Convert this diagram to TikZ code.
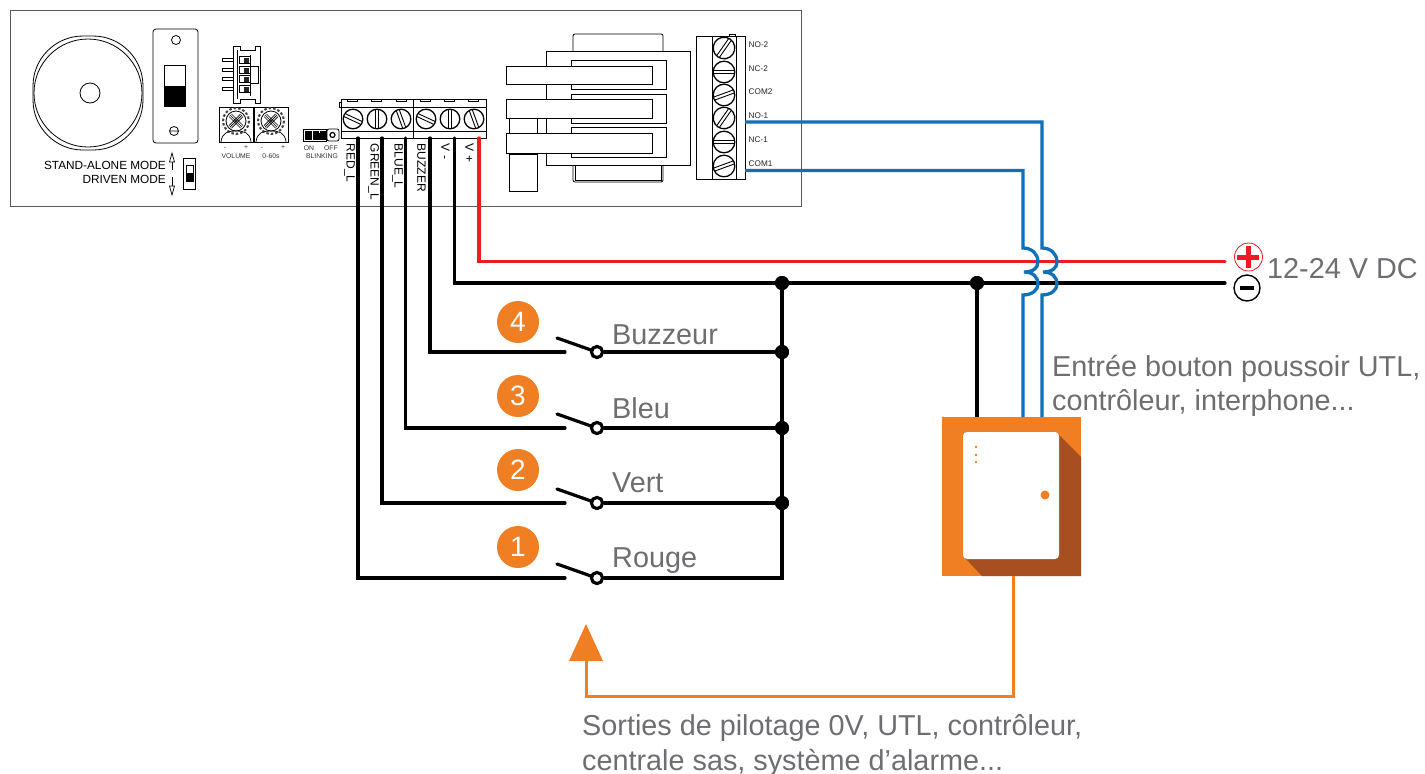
\documentclass[tikz,border=0pt]{standalone}
\usepackage{fontspec}
\setmainfont{Liberation Sans}
\definecolor{wblue}{HTML}{1070B8}
\definecolor{wred}{HTML}{ED1C24}
\definecolor{oran}{HTML}{F07E22}
\definecolor{brun}{HTML}{A84F22}
\definecolor{gtext}{HTML}{6D6E71}
\newcommand{\fsz}[1]{\fontsize{#1pt}{#1pt}\selectfont}
\newcommand{\screw}[4]{\begin{scope}[shift={(#1,#2)},rotate=#3]
\draw[line width=1.3pt,fill=white] (0,0) circle (#4);
\draw[line width=.9pt] (-#4+.3,-1.6) -- (#4-.3,-1.6) (-#4+.3,1.6) -- (#4-.3,1.6);
\end{scope}}
\newcommand{\trimmer}[2]{\begin{scope}[shift={(#1,#2)}]
\draw[line width=.7pt] (-17,-14) rectangle (17,21);
\draw[line width=2pt,dash pattern=on 2.5pt off 2pt,black!75] (0,0) circle (13);
\draw[line width=.8pt,fill=white] (0,0) circle (10);
\draw[line width=.7pt] (-6,-6) -- (6,6) (-6,6) -- (6,-6) (-7,-4.5) -- (4.5,7) (-4.5,-7) -- (7,4.5) (-7,4.5) -- (4.5,-7) (-4.5,7) -- (7,-4.5);
\draw[line width=.7pt] (-15,21) .. controls (-14,11) and (-7,10) .. (0,10) .. controls (7,10) and (14,11) .. (15,21);
\end{scope}}
\tikzset{
 panelline/.style={line width=.8pt,black},
 wire/.style={line width=3.2pt,black,line join=miter},
 redwire/.style={line width=3.2pt,wred},
 bluewire/.style={line width=3.3pt,wblue},
 orangewire/.style={line width=3pt,oran},
 junction/.style={circle,fill=black,inner sep=0pt,minimum size=14pt},
 contact/.style={circle,draw=black,line width=3pt,fill=white,inner sep=0pt,minimum size=11pt},
 numdisc/.style={circle,fill=oran,text=white,inner sep=0pt,minimum size=42pt,font=\fsz{28}},
 biglabel/.style={text=gtext,anchor=base west,inner sep=0pt,font=\fsz{28.8}},
 tiny/.style={inner sep=0pt,font=\fsz{6.8},text=black!80},
 relaylabel/.style={inner sep=0pt,anchor=west,font=\fsz{8.2},text=black!85},
 vlabel/.style={inner sep=0pt,rotate=-90,anchor=west,font=\fsz{12}},
 modelabel/.style={inner sep=0pt,anchor=east,font=\fsz{11.8}},
}
\begin{document}
\begin{tikzpicture}[x=1pt,y=-1pt]
\useasboundingbox (0,0) rectangle (1425,774);
\fill[white] (0,0) rectangle (1425,774);
% panel
\draw[line width=1pt,black!65] (10,10) rectangle (801,206);
% buzzer
\draw[panelline] (88,93) circle (54);
\draw[panelline,rounded corners=50pt] (33,36) rectangle (143,150);
\draw[panelline] (90,93) circle (10);
% switch plate
\draw[panelline,rounded corners=3pt] (153,29) rectangle (198,143);
\draw[panelline] (176,40) circle (4.5);
\draw[panelline] (164,65) rectangle (185,106);
\fill[black] (164,86) rectangle (185,106);
\draw[panelline] (174,131) circle (4.5) (169.5,131) -- (178.5,131);
% mode arrows
\draw[line width=.7pt] (172,162) -- (172,170) (172,177) -- (172,186);
\draw[line width=.7pt,fill=white] (172,153) -- (174.5,162) -- (169.5,162) -- cycle;
\draw[line width=.7pt,fill=white] (172,195) -- (174.5,186) -- (169.5,186) -- cycle;
\draw[panelline] (183,158) rectangle (195,189);
\draw[line width=.6pt] (186,165) rectangle (193,181);
\fill[black] (186,173) rectangle (193,181);
\node[modelabel] (standalone) at (166,165.5) {STAND-ALONE MODE};
\node[modelabel] (driven) at (166,179.5) {DRIVEN MODE};
% 4-pin connector
\draw[panelline] (233,46) -- (233,103) -- (240,103) -- (240,99) -- (255,99) -- (255,103) -- (260,103) -- (260,46) -- (255,46) -- (255,50) -- (240,50) -- (240,46) -- cycle;
\draw[line width=.6pt] (237,50) -- (237,99) (250,55) -- (250,96);
\draw[line width=.7pt] (250,66) -- (258,66) -- (258,83) -- (250,83);
\foreach \y in {60,70,79,89}{
 \draw[line width=.7pt] (222,\y-1.3) rectangle (233,\y+1.3);
 \draw[line width=.6pt] (239,\y-3.5) rectangle (250,\y+3.5);
 \fill[black!85] (244,\y-2.5) rectangle (249,\y+2.5);
}
% trimmers
\trimmer{236}{121}
\trimmer{271}{121}
\node[tiny] (vm) at (225,148) {-};
\node[tiny] (vp) at (246,148) {+};
\node[tiny] (volume) at (236,156) {VOLUME};
\node[tiny] (tm) at (262,148) {-};
\node[tiny] (tp) at (283,148) {+};
\node[tiny] (tempo) at (271,156) {0-60s};
% blinking jumper
\draw[line width=.7pt] (303,129) rectangle (326,141);
\fill[black] (305,130.5) rectangle (326,140);
\draw[line width=.5pt,white] (312,130.5) -- (312,140) (319,130.5) -- (319,133);
\draw[panelline,rounded corners=2pt] (327,129) rectangle (339,141);
\draw[line width=1.2pt] (332.5,135) circle (2.5);
\node[tiny] (on) at (309,148) {ON};
\node[tiny] (off) at (331,148) {OFF};
\node[tiny] (blinking) at (322,156) {BLINKING};
% terminal block
\draw[line width=1pt] (341,99) rectangle (486,138);
\draw[line width=.8pt] (341,107) -- (486,107) (341,131) -- (486,131) (413,99) -- (413,138);
\draw[line width=.7pt] (339,102) rectangle (341,107);
\foreach \x in {347,371,396,420,444,468}{\draw[line width=.7pt] (\x,99) rectangle (\x+10,101.5);}
\screw{353}{119}{-25}{9.8}
\screw{377}{119}{90}{9.8}
\screw{401}{119}{-70}{9.8}
\screw{426}{119}{-25}{9.8}
\screw{450}{119}{90}{9.8}
\screw{474}{119}{-70}{9.8}
\coordinate (tRed) at (358,138);
\coordinate (tGreen) at (382,138);
\coordinate (tBlue) at (405.5,138);
\coordinate (tBuzz) at (430,138);
\coordinate (tVm) at (454.5,138);
\coordinate (tVp) at (479,138);
\node[vlabel] (lred) at (349.5,143.5) {RED\_L};
\node[vlabel] (lgreen) at (373.5,143.5) {GREEN\_L};
\node[vlabel] (lblue) at (397.5,143.5) {BLUE\_L};
\node[vlabel] (lbuzz) at (421.5,143.5) {BUZZER};
\node[vlabel] (lvm) at (445.5,143.5) {V -};
\node[vlabel] (lvp) at (469.5,143.5) {V +};
% relay
\draw[panelline,rounded corners=2pt] (573,51) -- (573,34) -- (663,34) -- (663,51);
\draw[panelline,rounded corners=2pt] (573,165) -- (573,182) -- (663,182) -- (663,165);
\draw[panelline] (575,165) -- (575,180) -- (661,180) -- (661,165);
\draw[panelline] (546,51) rectangle (690,165);
\foreach \a/\b in {60/89,94/123,127/157}{\draw[panelline,fill=white] (571,\a) rectangle (666,\b);}
\draw[panelline] (509,118) rectangle (537,133);
\draw[panelline] (509,154) rectangle (537,191);
\foreach \a/\b in {66/84,99/118,133/153}{\draw[panelline,fill=white] (506,\a) rectangle (652,\b);}
% relay terminal
\draw[panelline] (696,36) rectangle (745,179);
\draw[panelline] (712,36) -- (712,179) (736,36) -- (736,179);
\draw[line width=.6pt] (729,34) rectangle (735,36);
\screw{724}{48}{55}{10.8}
\screw{724}{72}{0}{10.8}
\screw{724}{95}{20}{10.8}
\screw{724}{118}{55}{10.8}
\screw{724}{142}{0}{10.8}
\screw{724}{166}{20}{10.8}
\node[relaylabel] (no2) at (748.5,45) {NO-2};
\node[relaylabel] (nc2) at (748.5,69) {NC-2};
\node[relaylabel] (com2) at (748.5,91.5) {COM2};
\node[relaylabel] (no1) at (748.5,116) {NO-1};
\node[relaylabel] (nc1) at (748.5,140) {NC-1};
\node[relaylabel] (com1) at (748.5,163.5) {COM1};
\coordinate (tNO) at (745,122);
\coordinate (tCOM) at (745,170.5);
% supply ends
\coordinate (supP) at (1225,261.5);
\coordinate (supM) at (1225,283);
% device
\node[draw=none,fill=oran,minimum width=139pt,minimum height=159pt,inner sep=0pt] (device) at (1011.5,496.5) {};
\fill[brun] (1059,435) -- (1081,457) -- (1081,576) -- (982,576) -- (965,558) -- cycle;
\node[fill=white,rounded corners=4pt,minimum width=96pt,minimum height=127pt,inner sep=0pt] (door) at (1011,495.5) {};
\foreach \y in {447,455,462}{\fill[oran] (976,\y) circle (1.3);}
\fill[oran] (1045,495) circle (4.5);
\coordinate (devTL) at (977,417);
\coordinate (devB1) at (1023,417);
\coordinate (devB2) at (1042,417);
\coordinate (devOut) at (1013,576);
% switches and junctions
\node[contact] (c4) at (597,352) {};
\node[contact] (c3) at (597,428) {};
\node[contact] (c2) at (597,503) {};
\node[contact] (c1) at (597,578) {};
\node[junction] (j0) at (782,283) {};
\node[junction] (jd) at (977,283) {};
\node[junction] (j4) at (782,352) {};
\node[junction] (j3) at (782,428) {};
\node[junction] (j2) at (782,503) {};
\coordinate (j1) at (782,578);
\coordinate (s4) at (565,352);
\coordinate (s3) at (565,428);
\coordinate (s2) at (565,503);
\coordinate (s1) at (565,578);
\foreach \n/\y in {4/352,3/428,2/503,1/578}{
 \draw[wire,line cap=round] (557,\y-14) -- (591,\y-2);
}
% wires
\draw[wire,line cap=round] (tBuzz) |- (s4);
\draw[wire,line cap=round] (tBlue) |- (s3);
\draw[wire,line cap=round] (tGreen) |- (s2);
\draw[wire,line cap=round] (tRed) |- (s1);
\draw[wire] (c4) -- (j4);
\draw[wire] (c3) -- (j3);
\draw[wire] (c2) -- (j2);
\draw[wire] (c1) -- (j1);
\draw[wire] (j0) -- (j1) -- +(0,1.6);
\draw[redwire,line cap=round] (tVp) |- (supP);
\draw[wire,line cap=round] (tVm) |- (supM);
\draw[wire] (jd) -- (devTL);
\foreach \n in {c4,c3,c2,c1}{\node[contact] at (\n) {};}
\foreach \n in {j0,jd,j4,j3,j2}{\node[junction] at (\n) {};}
% blue wires with hops
\draw[bluewire,line join=miter] (tCOM) -- (1023,170.5) -- (1023,248) .. controls (1032,248) and (1038,254) .. (1038,262) .. controls (1038,268) and (1033,272) .. (1024,272) .. controls (1033,272) and (1038,277) .. (1038,284) .. controls (1038,290) and (1032,295) .. (1023,295) -- (devB1);
\draw[bluewire,line join=miter] (tNO) -- (1042,122) -- (1042,248) .. controls (1051,248) and (1057,254) .. (1057,262) .. controls (1057,268) and (1052,272) .. (1043,272) .. controls (1052,272) and (1057,277) .. (1057,284) .. controls (1057,290) and (1051,295) .. (1042,295) -- (devB2);
% supply symbols
\node[circle,draw=wred,line width=.8pt,minimum size=28pt,inner sep=0pt] (plus) at (1248.5,257) {};
\draw[wred,line width=5pt] (plus.west) ++(3,0) -- ++(22,0);
\draw[wred,line width=5pt] (plus.north) ++(0,3) -- ++(0,22);
\node[circle,draw=black,line width=1.4pt,minimum size=26pt,inner sep=0pt] (minus) at (1247,288) {};
\draw[black,line width=4pt] (1240,288) -- (1254,288);
\node[biglabel] (dc) at (1267,278) {12-24 V DC};
% labels
\node[biglabel] (in1) at (1052,376) {Entrée bouton poussoir UTL,};
\node[biglabel] (in2) at (1052,410) {contrôleur, interphone...};
\node[biglabel] (lab4) at (612,344) {Buzzeur};
\node[biglabel] (lab3) at (612,418) {Bleu};
\node[biglabel] (lab2) at (612,492) {Vert};
\node[biglabel] (lab1) at (612,567) {Rouge};
\node[numdisc] (n4) at (518,322) {4};
\node[numdisc] (n3) at (518,396) {3};
\node[numdisc] (n2) at (518,470) {2};
\node[numdisc] (n1) at (518,547) {1};
% output
\coordinate (arrBase) at (586,661);
\fill[oran] (586,624) -- (603,661) -- (569,661) -- cycle;
\draw[orangewire] (devOut) -- (1013,696) -- (586,696) -- (arrBase);
\node[biglabel] (out1) at (582,735) {Sorties de pilotage 0V, UTL, contrôleur,};
\node[biglabel] (out2) at (582,770) {centrale sas, système d’alarme...};
\end{tikzpicture}
\end{document}
